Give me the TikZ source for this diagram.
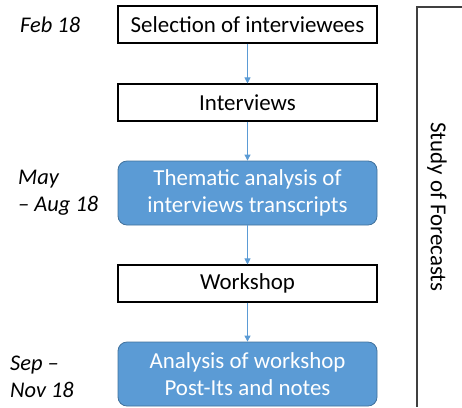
\documentclass[tikz,border=0pt]{standalone}
\usepackage{fontspec}
\setmainfont{Carlito}
\usetikzlibrary{arrows.meta}
\definecolor{boxblue}{HTML}{5B9BD5}
\definecolor{boxedge}{HTML}{41719C}
\definecolor{arrowblue}{HTML}{5B9BD5}
\definecolor{bracketgray}{HTML}{404040}
\begin{document}
\begin{tikzpicture}[x=1bp,y=-1bp,
  plainbox/.style={draw=black,line width=1.1bp,fill=white,minimum width=259bp,minimum height=37bp,inner sep=0pt,font=\fontsize{23}{27}\selectfont,align=center},
  bluebox/.style={draw=boxedge,line width=0.8bp,fill=boxblue,rounded corners=9bp,minimum width=259bp,minimum height=64bp,inner sep=0pt,text=white,font=\fontsize{23}{26.5}\selectfont,align=center},
  flow/.style={draw=arrowblue,line width=0.8bp,-{Triangle[width=6bp,length=6bp]}},
  datelabel/.style={anchor=west,inner sep=0pt,align=left,font=\itshape\fontsize{22.5}{27.5}\selectfont}]
\useasboundingbox (0,0) rectangle (462,407);
\node[plainbox] (b1) at (247.5,24.5) {Selection of interviewees};
\node[plainbox] (b2) at (247.5,102.5) {Interviews};
\node[bluebox] (b3) at (247.5,193) {Thematic analysis of\\interviews transcripts};
\node[plainbox] (b4) at (247.5,283.5) {Workshop};
\node[bluebox] (b5) at (247.5,374) {Analysis of workshop\\Post-Its and notes};
\draw[flow] (b1) -- (b2);
\draw[flow] (b2) -- (b3);
\draw[flow] (b3) -- (b4);
\draw[flow] (b4) -- (b5);
\node[datelabel] (d1) at (20,25) {Feb 18};
\node[datelabel] (d2) at (18,193) {May\\– Aug 18};
\node[datelabel] (d3) at (10,377) {Sep –\\Nov 18};
\coordinate (brtop) at (462,7);
\coordinate (brcorner) at (417,7);
\coordinate (brbottom) at (417,407);
\draw[bracketgray,line width=1.5bp] (brtop) -- (brcorner) -- (brbottom);
\node[rotate=-90,inner sep=0pt,font=\fontsize{23}{27}\selectfont] (study) at (437,207) {Study of Forecasts};
\end{tikzpicture}
\end{document}
